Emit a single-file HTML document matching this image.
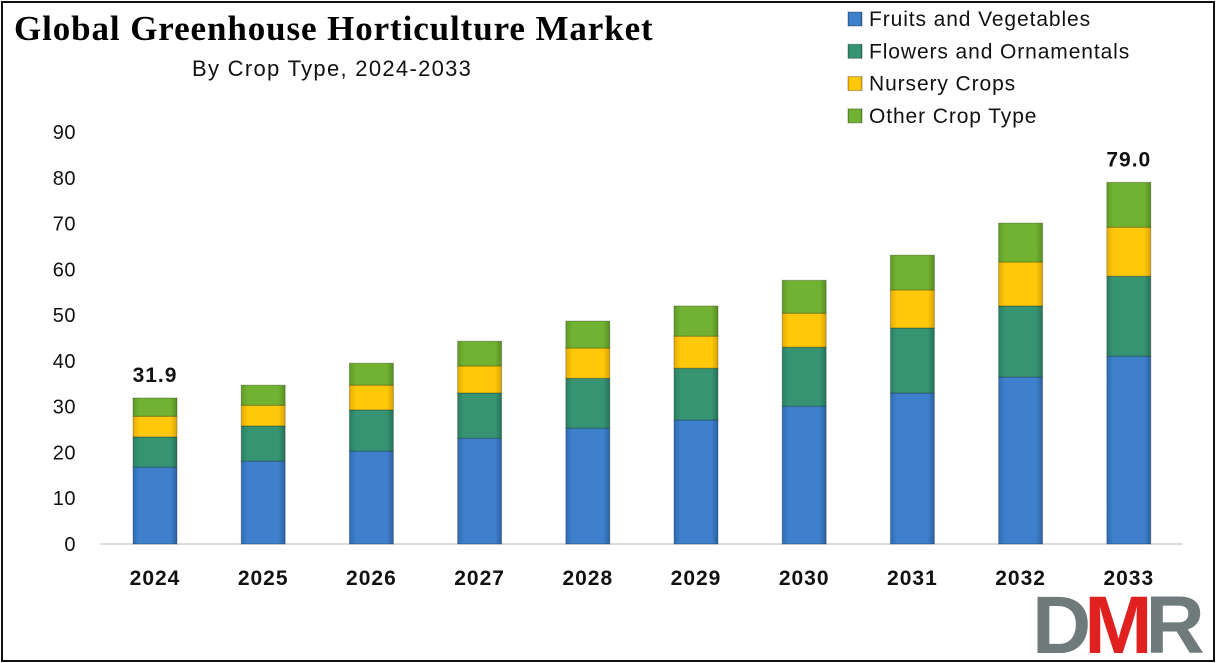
<!DOCTYPE html>
<html><head><meta charset="utf-8"><style>
body{margin:0;background:#fff;}
#wrap{position:relative;width:1216px;height:663px;overflow:hidden;background:#fff;font-family:"Liberation Sans",sans-serif;}
#frame{position:absolute;left:1px;top:1px;width:1210px;height:657px;border:2px solid #111;}
.t{position:absolute;white-space:nowrap;}
</style></head><body>
<div id="wrap">
<div id="frame"></div>
<div class="t" style="left:14px;top:9px;font-family:'Liberation Serif',serif;font-weight:bold;font-size:35px;letter-spacing:0.9px;color:#000;">Global Greenhouse Horticulture Market</div>
<div class="t" style="left:192px;top:56px;font-size:22px;letter-spacing:1.3px;color:#111;">By Crop Type, 2024-2033</div>
<svg id="svg" width="1216" height="663" style="position:absolute;left:0;top:0">
<defs>
<linearGradient id="g0" x1="0" x2="1"><stop offset="0" stop-color="#2f6db3"/><stop offset="0.15" stop-color="#3f80cc"/><stop offset="0.85" stop-color="#3f80cc"/><stop offset="1" stop-color="#2a62a2"/></linearGradient>
<linearGradient id="g1" x1="0" x2="1"><stop offset="0" stop-color="#2a8063"/><stop offset="0.15" stop-color="#379473"/><stop offset="0.85" stop-color="#379473"/><stop offset="1" stop-color="#257358"/></linearGradient>
<linearGradient id="g2" x1="0" x2="1"><stop offset="0" stop-color="#e4ad00"/><stop offset="0.15" stop-color="#ffc80a"/><stop offset="0.85" stop-color="#ffc80a"/><stop offset="1" stop-color="#d9a300"/></linearGradient>
<linearGradient id="g3" x1="0" x2="1"><stop offset="0" stop-color="#5f9c26"/><stop offset="0.15" stop-color="#72b232"/><stop offset="0.85" stop-color="#72b232"/><stop offset="1" stop-color="#578f22"/></linearGradient>
</defs>
</svg>
<div class="t" style="left:1032px;top:585px;font-size:82px;font-weight:bold;letter-spacing:-7px;line-height:82px;"><span style="color:#6f7a7a">D</span><span style="color:#e0211f">M</span><span style="color:#6f7a7a">R</span></div>
</div>
<script>
const years=["2024","2025","2026","2027","2028","2029","2030","2031","2032","2033"];
const fruits=[16.8,18.1,20.3,23.1,25.3,27.1,30.1,33.0,36.5,41.0];
const flowers=[6.6,7.7,9.0,9.9,10.9,11.3,12.9,14.2,15.5,17.5];
const nursery=[4.5,4.5,5.4,5.9,6.6,7.0,7.4,8.3,9.6,10.7];
const other=[4.0,4.4,4.8,5.4,5.9,6.6,7.2,7.6,8.5,9.8];
const totalLabels={0:"31.9",9:"79.0"};
const yTicks=[0,10,20,30,40,50,60,70,80,90];
const seriesNames=["Fruits and Vegetables","Flowers and Ornamentals","Nursery Crops","Other Crop Type"];
const NS="http://www.w3.org/2000/svg";
const svg=document.getElementById('svg');
const y0=544,yPer=4.578;
const yS=v=>y0-v*yPer;
const xS=i=>155+i*108.2;
const bw=44;
function mk(tag,attrs){const e=document.createElementNS(NS,tag);for(const k in attrs)e.setAttribute(k,attrs[k]);svg.appendChild(e);return e;}
const ax=mk('line',{x1:100,x2:1183,y1:y0,y2:y0,stroke:'#d0d0d0','stroke-width':1.5});


yTicks.forEach(v=>{const t=mk('text',{x:76,y:yS(v)+7,'text-anchor':'end','font-size':20,'letter-spacing':0.5,fill:'#111','font-family':'Liberation Sans, sans-serif'});t.textContent=v;

});
const series=[fruits,flowers,nursery,other];
years.forEach((yr,i)=>{
  let acc=0;
  series.forEach((s,k)=>{
    const top=yS(acc+s[i]),bot=yS(acc);
    const r=mk('rect',{x:xS(i)-bw/2,y:top,width:bw,height:bot-top,fill:'url(#g'+k+')',stroke:'rgba(0,0,0,0.25)','stroke-width':1});
    
    
    acc+=s[i];
  });
  const xl=mk('text',{x:xS(i),y:585,'text-anchor':'middle','font-size':21,'letter-spacing':1,'font-weight':'bold',fill:'#111','font-family':'Liberation Sans, sans-serif'});
  xl.textContent=yr;
  
  
  if(totalLabels[i]){const tl=mk('text',{x:xS(i),y:yS(acc)-16,'text-anchor':'middle','font-size':21,'letter-spacing':1,'font-weight':'bold',fill:'#111','font-family':'Liberation Sans, sans-serif'});tl.textContent=totalLabels[i];
  
  }
});
seriesNames.forEach((n,k)=>{
  const y=19+k*32.3;
  const sq=mk('rect',{x:848,y:y-7,width:14,height:14,fill:'url(#g'+k+')',stroke:'rgba(0,0,0,0.3)'});
  
  
  const t=mk('text',{x:869,y:y+7,'font-size':21,'letter-spacing':0.9,fill:'#111','font-family':'Liberation Sans, sans-serif'});t.textContent=n;
  
  
});
</script>
</body></html>
